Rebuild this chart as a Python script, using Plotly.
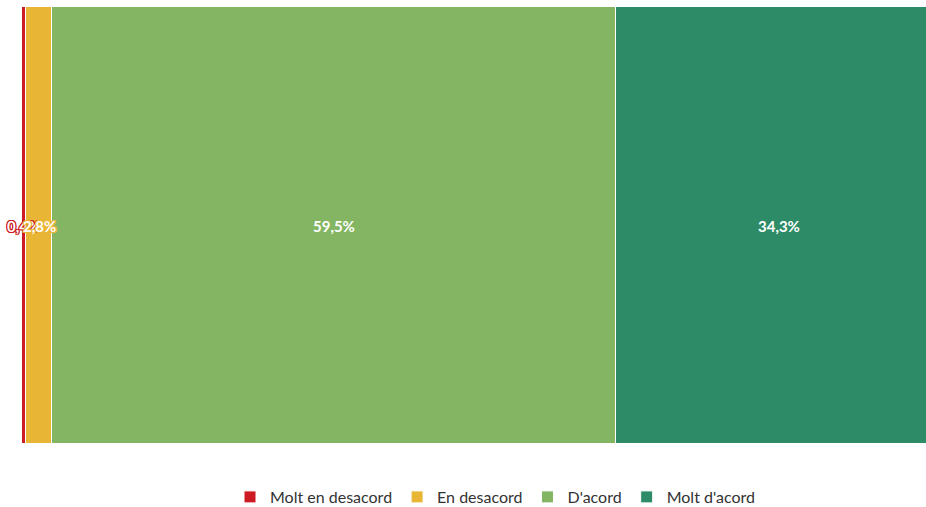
import plotly.graph_objects as go

categories = ["Molt en desacord", "En desacord", "D'acord", "Molt d'acord"]
values = [0.4, 2.8, 59.5, 34.3]
colors = ["#cc1b22", "#e8b634", "#84b562", "#2e8b67"]
labels = ["0,4%", "2,8%", "59,5%", "34,3%"]
row = [""]

fig = go.Figure()
for name, v, c in zip(categories, values, colors):
    fig.add_trace(go.Bar(
        y=row, x=[v], name=name, orientation="h",
        marker=dict(color=c, line=dict(color="white", width=1)),
        hoverinfo="skip",
    ))

annotations = []
cum = 0
for v, c, lab in zip(values, colors, labels):
    center = cum + v / 2
    cum += v
    sh = ",".join(f"{dx}px {dy}px 0px {c}" for dx in (-1, 0, 1) for dy in (-1, 0, 1) if dx or dy)
    annotations.append(dict(
        x=center, y=0, xref="x", yref="y", text=lab, showarrow=False,
        font=dict(family="Lato", size=15, color="white", weight="bold", shadow=sh),
    ))

fig.update_layout(
    barmode="stack",
    bargap=0,
    width=926, height=507,
    margin=dict(l=22, r=0, t=7, b=63),
    plot_bgcolor="white", paper_bgcolor="white",
    xaxis=dict(range=[0, 95.4], visible=False, fixedrange=True),
    yaxis=dict(visible=False, fixedrange=True),
    showlegend=True,
    legend=dict(
        orientation="h", xref="container", yref="container",
        x=495 / 926, xanchor="center", y=10 / 507, yanchor="middle",
        font=dict(family="Lato", size=16, color="#333333"),
        itemwidth=30,
        itemclick=False, itemdoubleclick=False, traceorder="normal",
    ),
    annotations=annotations,
)

fig.write_html(
    "out.html",
    config={"displayModeBar": False},
    post_script="document.body.style.margin='0';document.body.style.overflow='hidden';",
)
